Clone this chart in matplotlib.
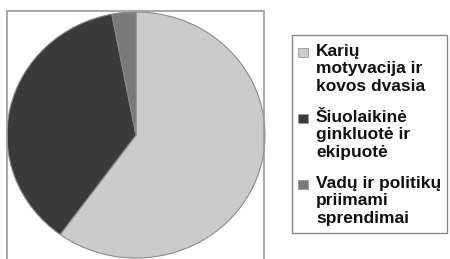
import matplotlib
matplotlib.use("Agg")
import matplotlib.pyplot as plt
from matplotlib.patches import Rectangle

# Pie data (shares, %)
labels = ["Karių\nmotyvacija ir\nkovos dvasia",
          "Šiuolaikinė\nginkluotė ir\nekipuotė",
          "Vadų ir politikų\npriimami\nsprendimai"]
shares = [60, 37, 3]
colors = ["#cbcbcb", "#3a3a3a", "#7a7a7a"]

W, H = 450, 259
fig = plt.figure(figsize=(W / 100, H / 100), dpi=100)


def fx(px):
    return px / W


def fy(py):
    return 1 - py / H


# outer frame around the pie
fig.patches.append(Rectangle((fx(7), fy(262)), fx(257), 262 / H - 11 / H,
                             transform=fig.transFigure, fill=False,
                             edgecolor="#999999", linewidth=1.2))

ax = fig.add_axes([fx(7), fy(258), fx(258), 246 / H])
ax.pie(shares, colors=colors, startangle=90, counterclock=False,
       wedgeprops=dict(edgecolor="#8a8a8a", linewidth=0.8))
ax.set_aspect("auto")
ax.set_xlim(-1, 1)
ax.set_ylim(-1, 1)
ax.axis("off")

# legend, drawn by hand so the swatch sits on the first line
fig.patches.append(Rectangle((fx(292), fy(233)), fx(155), 198 / H,
                             transform=fig.transFigure, fill=False,
                             edgecolor="#888888", linewidth=1.0))
for i, (lab, c) in enumerate(zip(labels, colors)):
    top = 48 + i * 66
    fig.patches.append(Rectangle((fx(298), fy(top + 9)), fx(10), 9 / H,
                                 transform=fig.transFigure, facecolor=c,
                                 edgecolor="#999999", linewidth=0.6))
    fig.text(fx(316), fy(top - 4), lab, ha="left", va="top",
             fontsize=12.5, fontweight="bold", family="Liberation Sans",
             color="#111111", linespacing=1.2)

fig.savefig("out.png", dpi=100)
